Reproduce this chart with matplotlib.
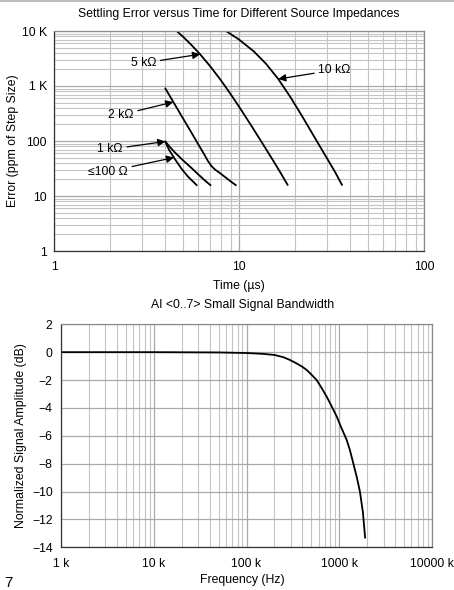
import matplotlib
matplotlib.use("Agg")
import matplotlib.pyplot as plt
from matplotlib.lines import Line2D
from matplotlib.ticker import FixedLocator, FixedFormatter, LogLocator, NullFormatter

plt.rcParams['font.family'] = ['Liberation Sans', 'DejaVu Sans']
plt.rcParams['font.size'] = 8.8

# ---- Settling error data (time in µs, error in ppm of step size) ----
t_10k = [8.5, 10, 12, 14, 16.3, 19, 22, 25.8, 30, 33, 36]
e_10k = [10000, 7000, 4280, 2535, 1340, 622, 278, 112, 47.5, 27.6, 16]

t_5k = [4.6, 5.0, 5.5, 6.16, 7.0, 8.0, 9.0, 10.0, 11.5, 13.3, 15.0, 16.5, 18.3]
e_5k = [10000, 7780, 5680, 3780, 2265, 1260, 715, 422, 204, 94, 49, 29, 16]

t_2k = [4.0, 4.5, 5.0, 5.5, 6.0, 6.5, 6.8, 7.1, 7.4, 7.9, 8.5, 9.1, 9.6]
e_2k = [900, 460, 252, 147, 89, 56.5, 43, 35, 30.5, 26, 21.5, 18, 15.8]

t_1k = [4.0, 4.2, 4.5, 5.0, 5.5, 6.0, 6.5, 7.0]
e_1k = [98, 80, 62, 44, 33, 25, 19.5, 15.8]

t_100 = [4.0, 4.2, 4.5, 4.9, 5.3, 5.9]
e_100 = [95, 68, 47, 31, 22.5, 15.8]

settle_yticks = [1, 10, 100, 1000, 10000]
settle_ylabels = ["1", "10", "100", "1 K", "10 K"]
settle_xticks = [1, 10, 100]
settle_xlabels = ["1", "10", "100"]

# ---- Small signal bandwidth data ----
freq_hz = [1e3, 1e4, 5e4, 1e5, 1.5e5, 2e5, 2.5e5, 2.94e5, 3.5e5, 4e5, 4.46e5,
           5e5, 5.71e5, 6.5e5, 7.33e5, 8.3e5, 9.37e5, 1.05e6, 1.2e6, 1.3e6,
           1.42e6, 1.55e6, 1.67e6, 1.8e6, 1.9e6]
gain_db = [0, 0, -0.02, -0.06, -0.12, -0.2, -0.36, -0.56, -0.82, -1.05, -1.28,
           -1.6, -2.0, -2.6, -3.2, -3.9, -4.6, -5.4, -6.28, -7.0,
           -8.0, -9.0, -10.0, -11.5, -13.3]

bw_xticks = [1e3, 1e4, 1e5, 1e6, 1e7]
bw_xlabels = ["1 k", "10 k", "100 k", "1000 k", "10000 k"]
bw_yticks = [-14, -12, -10, -8, -6, -4, -2, 0, 2]
bw_ylabels = ["\u221214", "\u221212", "\u221210", "\u22128", "\u22126",
              "\u22124", "\u22122", "0", "2"]

W, H = 454, 590
fig = plt.figure(figsize=(W / 100, H / 100), dpi=100)

GRID = "#c4c4c4"
GRID_MAJ = "#a8a8a8"


def style_spines(ax):
    for side in ("left", "bottom"):
        ax.spines[side].set_color("#333333")
        ax.spines[side].set_linewidth(0.9)
    for side in ("top", "right"):
        ax.spines[side].set_color("#8a8a8a")
        ax.spines[side].set_linewidth(0.9)
    ax.tick_params(which="both", length=0)


# ---------------- Top: settling error ----------------
ax1 = fig.add_axes([54 / W, 1 - 251 / H, 370 / W, 220 / H])
ax1.set_xscale("log")
ax1.set_yscale("log")
ax1.set_xlim(1, 100)
ax1.set_ylim(1, 10000)

ax1.xaxis.set_major_locator(FixedLocator(settle_xticks))
ax1.xaxis.set_major_formatter(FixedFormatter(settle_xlabels))
ax1.yaxis.set_major_locator(FixedLocator(settle_yticks))
ax1.yaxis.set_major_formatter(FixedFormatter(settle_ylabels))
ax1.xaxis.set_minor_locator(LogLocator(base=10, subs=range(2, 10)))
ax1.yaxis.set_minor_locator(LogLocator(base=10, subs=range(2, 10)))
ax1.xaxis.set_minor_formatter(NullFormatter())
ax1.yaxis.set_minor_formatter(NullFormatter())
ax1.grid(which="major", color=GRID_MAJ, lw=0.9)
ax1.grid(which="minor", color=GRID, lw=0.8)
ax1.set_axisbelow(True)
style_spines(ax1)
ax1.tick_params(axis="x", pad=7)
ax1.tick_params(axis="y", pad=5)

for tt, ee in [(t_10k, e_10k), (t_5k, e_5k), (t_2k, e_2k), (t_1k, e_1k), (t_100, e_100)]:
    ax1.plot(tt, ee, color="black", lw=1.3, solid_joinstyle="round")

arrow = dict(arrowstyle="-|>", color="black", lw=0.9, mutation_scale=11,
             shrinkA=1, shrinkB=0)
ax1.annotate("5 k\u03a9", xy=(6.16, 3780), xytext=(3.05, 2620),
             ha="center", va="center", arrowprops=arrow)
ax1.annotate("10 k\u03a9", xy=(16.3, 1340), xytext=(32.8, 1954),
             ha="center", va="center", arrowprops=arrow)
ax1.annotate("2 k\u03a9", xy=(4.41, 510), xytext=(2.30, 300),
             ha="center", va="center", arrowprops=arrow)
ax1.annotate("1 k\u03a9", xy=(4.0, 98), xytext=(2.01, 70.7),
             ha="center", va="center", arrowprops=arrow)
ax1.annotate("\u2264100 \u03a9", xy=(4.45, 50), xytext=(1.96, 27.7),
             ha="center", va="center", arrowprops=arrow)

ax1.text(0.5, 1 + 17 / 220, "Settling Error versus Time for Different Source Impedances",
         transform=ax1.transAxes, ha="center", va="center")
ax1.set_xlabel("Time (\u00b5s)")
ax1.xaxis.set_label_coords(0.5, -(279.5 - 251) / 220)
ax1.set_ylabel("Error (ppm of Step Size)")
ax1.yaxis.set_label_coords(-(54 - 19) / 370, 0.5)

# ---------------- Bottom: small signal bandwidth ----------------
ax2 = fig.add_axes([61 / W, 1 - 547.3 / H, 371 / W, 223 / H])
ax2.set_xscale("log")
ax2.set_xlim(1e3, 1e7)
ax2.set_ylim(-14, 2)
ax2.xaxis.set_major_locator(FixedLocator(bw_xticks))
ax2.xaxis.set_major_formatter(FixedFormatter(bw_xlabels))
ax2.xaxis.set_minor_locator(LogLocator(base=10, subs=range(2, 10)))
ax2.xaxis.set_minor_formatter(NullFormatter())
ax2.yaxis.set_major_locator(FixedLocator(bw_yticks))
ax2.yaxis.set_major_formatter(FixedFormatter(bw_ylabels))
ax2.grid(which="major", color=GRID_MAJ, lw=0.9)
ax2.grid(which="minor", axis="x", color=GRID, lw=0.8)
ax2.set_axisbelow(True)
style_spines(ax2)
ax2.tick_params(axis="x", pad=8)
ax2.tick_params(axis="y", pad=6)

ax2.plot(freq_hz, gain_db, color="black", lw=1.3, solid_joinstyle="round")

ax2.text(0.49, 1 + 19.3 / 223, "AI <0..7> Small Signal Bandwidth",
         transform=ax2.transAxes, ha="center", va="center")
ax2.set_xlabel("Frequency (Hz)")
ax2.xaxis.set_label_coords(0.49, -(573.5 - 547.3) / 223)
ax2.set_ylabel("Normalized Signal Amplitude (dB)")
ax2.yaxis.set_label_coords(-(61 - 27) / 371, 0.5)

# page rule and page number
fig.add_artist(Line2D([0, 1], [1 - 1 / H, 1 - 1 / H], transform=fig.transFigure,
                      color="#b0b0b0", lw=1.2))
fig.text(8 / W, 1 - 583 / H, "7", ha="center", va="center", fontsize=11)

fig.savefig("out.png", dpi=100)
